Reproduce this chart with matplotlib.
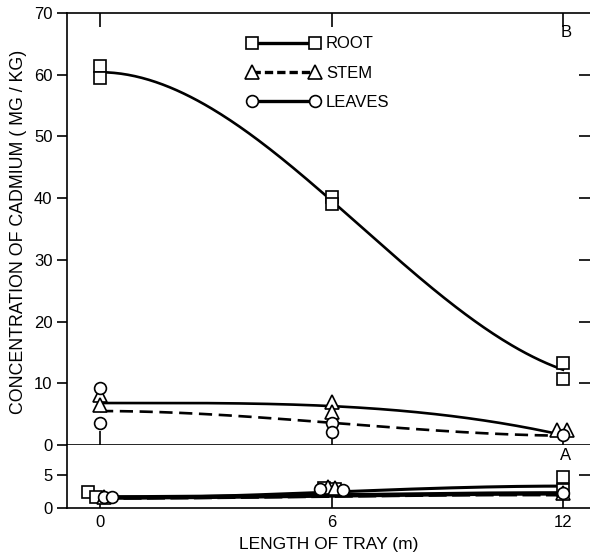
import numpy as np
import matplotlib
matplotlib.use('Agg')
import matplotlib.pyplot as plt

plt.rcParams['font.family'] = ['Liberation Sans', 'DejaVu Sans']

# tray positions (m)
length = [0, 6, 12]

# B: upper panel, replicate samples
root_b_x = [0, 0, 6, 6, 12, 12]
root_b = [61.4, 59.5, 40.2, 39.1, 13.3, 10.7]
stem_b_x = [0, 0, 6, 6, 11.85, 12.1]
stem_b = [8.1, 6.5, 7.0, 5.3, 2.4, 2.4]
leaves_b_x = [0, 0, 6, 6, 12]
leaves_b = [9.2, 3.6, 3.6, 2.1, 1.6]

# B: fitted curves
root_b_fit = [60.4, 39.6, 12.2]
stem_b_fit = [5.5, 3.6, 1.5]
leaves_b_fit = [6.8, 6.3, 1.6]

# A: lower panel, replicate samples
root_a_x = [-0.3, -0.1, 5.8, 6.1, 12, 12]
root_a = [2.4, 1.7, 3.0, 2.9, 4.7, 2.7]
stem_a_x = [0.1, 5.9, 6.1, 12]
stem_a = [1.6, 3.2, 3.0, 2.3]
leaves_a_x = [0.1, 0.3, 5.7, 6.3, 12]
leaves_a = [1.6, 1.6, 2.8, 2.7, 2.2]

# A: fitted curves
root_a_fit = [1.5, 2.4, 3.3]
stem_a_fit = [1.5, 1.8, 2.0]
leaves_a_fit = [1.6, 1.9, 2.2]


def smooth(xs, ys, n=200):
    # cubic y = a + b x^2 + c x^3 through the three points (flat at the start)
    xs = np.asarray(xs, float)
    A = np.column_stack([np.ones_like(xs), xs ** 2, xs ** 3])
    a, b, c = np.linalg.solve(A, np.asarray(ys, float))
    xx = np.linspace(xs[0], xs[-1], n)
    return xx, a + b * xx ** 2 + c * xx ** 3


mk = dict(mfc='white', mec='black', mew=1.2, ls='none', zorder=3)

fig = plt.figure(figsize=(5.9, 5.57), dpi=100)
ax_b = fig.add_axes([0.1136, 0.2011, 0.8864, 0.7756])
ax_a = fig.add_axes([0.1136, 0.0880, 0.8864, 0.1131])

xlim = (-0.855, 12.70)

# --- panel B
ax_b.plot(*smooth(length, root_b_fit), color='black', lw=1.9)
ax_b.plot(*smooth(length, leaves_b_fit), color='black', lw=1.9)
ax_b.plot(*smooth(length, stem_b_fit), color='black', lw=1.9, dashes=(5, 2.5))
ax_b.plot(root_b_x, root_b, marker='s', ms=8, **mk)
ax_b.plot(stem_b_x, stem_b, marker='^', ms=10, **mk)
ax_b.plot(leaves_b_x, leaves_b, marker='o', ms=8.5, **mk)

ax_b.set_xlim(*xlim)
ax_b.set_ylim(0, 70)
ax_b.set_yticks(range(0, 71, 10))
ax_b.set_xticks([0, 6, 12])
ax_b.tick_params(axis='y', direction='out', length=7, width=1.2, labelsize=12)
ax_b.tick_params(axis='x', top=True, bottom=True, labelbottom=False,
                 direction='in', length=10, width=1.2)

# inward ticks on the right side, drawn as a twin axis
ax_br = ax_b.twinx()
ax_br.set_ylim(0, 70)
ax_br.set_yticks(range(10, 61, 10))
ax_br.tick_params(axis='y', direction='in', length=8, width=1.2, labelright=False)
for s in ax_br.spines.values():
    s.set_visible(False)
ax_b.spines['right'].set_visible(False)
for s in ('left', 'top', 'bottom'):
    ax_b.spines[s].set_linewidth(1.2)

h_root, = ax_b.plot([], [], color='black', lw=2.4, marker='s', ms=8,
                    mfc='white', mec='black', mew=1.2)
h_stem, = ax_b.plot([], [], color='black', lw=2.4, dashes=(2.5, 1.2), marker='^', ms=10,
                    mfc='white', mec='black', mew=1.2)
h_leaves, = ax_b.plot([], [], color='black', lw=2.4, marker='o', ms=8.5,
                      mfc='white', mec='black', mew=1.2)
ax_b.legend([h_root, h_stem, h_leaves], ['ROOT', 'STEM', 'LEAVES'],
            loc='upper left', bbox_to_anchor=(0.328, 0.965), frameon=False,
            numpoints=2, handlelength=4.4, handletextpad=0.35,
            labelspacing=0.85, fontsize=12, borderpad=0)

ax_b.text(12.07, 66.8, 'B', ha='center', va='center', fontsize=12)

# --- panel A
ax_a.plot(*smooth(length, root_a_fit), color='black', lw=2.2)
ax_a.plot(*smooth(length, leaves_a_fit), color='black', lw=3.2)
ax_a.plot(*smooth(length, stem_a_fit), color='black', lw=2.6, dashes=(5, 1.5))
ax_a.plot(root_a_x, root_a, marker='s', ms=8, **mk)
ax_a.plot(stem_a_x, stem_a, marker='^', ms=10, **mk)
ax_a.plot(leaves_a_x, leaves_a, marker='o', ms=8.5, **mk)

ax_a.set_xlim(*xlim)
ax_a.set_ylim(0, 9.5)
ax_a.set_yticks([0, 5])
ax_a.set_xticks([0, 6, 12])
ax_a.tick_params(axis='y', direction='out', length=7, width=1.2, labelsize=12)
ax_a.tick_params(axis='x', direction='in', length=8, width=1.2, labelsize=12, pad=5)

ax_ar = ax_a.twinx()
ax_ar.set_ylim(0, 9.5)
ax_ar.set_yticks([5])
ax_ar.tick_params(axis='y', direction='in', length=8, width=1.2, labelright=False)
for s in ax_ar.spines.values():
    s.set_visible(False)
ax_a.spines['right'].set_visible(False)
ax_a.spines['top'].set_visible(False)
for s in ('left', 'bottom'):
    ax_a.spines[s].set_linewidth(1.2)

ax_a.text(12.07, 7.9, 'A', ha='center', va='center', fontsize=12)

ax_a.set_xlabel('LENGTH OF TRAY (m)', fontsize=12.5, labelpad=5)
fig.text(0.032, 0.583, 'CONCENTRATION OF CADMIUM ( MG / KG)', rotation=90,
         ha='center', va='center', fontsize=12.8)

fig.savefig('out.png', dpi=100)
